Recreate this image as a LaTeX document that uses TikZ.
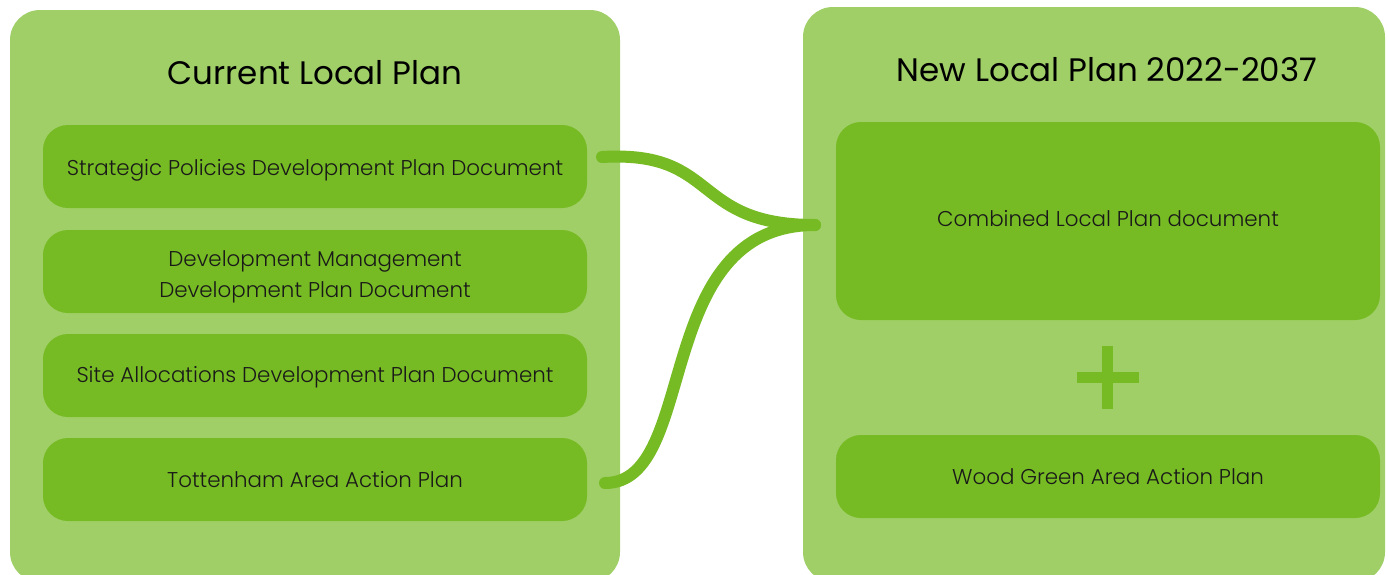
\documentclass[tikz,border=0pt]{standalone}
\usepackage{fontspec}
\setmainfont{Poppins}
\newfontfamily\lightfont{Poppins Light}
\definecolor{outergreen}{RGB}{160,207,103}
\definecolor{innergreen}{RGB}{118,187,35}
\newcommand{\dn}[2]{\raisebox{#1}[\height][\depth]{#2}}
\begin{document}
\begin{tikzpicture}[x=1pt,y=-1pt,
  outerbox/.style={fill=outergreen, rounded corners=30pt},
  innerbox/.style={draw=none, fill=innergreen, rounded corners=25pt, minimum width=544pt, minimum height=83pt, inner sep=0pt, align=center, font=\lightfont\fontsize{21.4}{31}\selectfont, text=black!90},
  titletext/.style={font=\fontsize{32.5}{38}\selectfont, text=black, inner sep=0pt},
  conn/.style={draw=innergreen, line width=12pt, line cap=round}]
\useasboundingbox (0,0) rectangle (1388,574);
\clip (0,0) rectangle (1388,574);
% outer panels
\fill[outerbox] (10,10) rectangle (620,582);
\fill[outerbox] (803,7) rectangle (1385,582);
% titles
\node[titletext] (t1) at (315,73) {Current Local Plan};
\node[titletext] (t2) at (1107,70) {New Local Plan 2022-2037};
% left inner boxes
\node[innerbox] (spd) at (315,166.5) {\dn{-3.5pt}{Strategic Policies Development Plan Document}};
\node[innerbox] (dm) at (315,271.5) {\dn{-5pt}{Development Management}\\\dn{-5pt}{Development Plan Document}};
\node[innerbox] (sa) at (315,375.5) {\dn{-1.5pt}{Site Allocations Development Plan Document}};
\node[innerbox] (taap) at (315,479.5) {\dn{-0.5pt}{Tottenham Area Action Plan}};
% right inner boxes
\node[innerbox, minimum height=198pt] (clp) at (1108,221) {\dn{2.5pt}{Combined Local Plan document}};
\node[innerbox] (wg) at (1108,476.5) {\dn{-0.5pt}{Wood Green Area Action Plan}};
% plus sign
\fill[innergreen] (1077,372) rectangle (1139,383);
\fill[innergreen] (1102,346) rectangle (1113,409);
% connectors
\coordinate (s1) at (602,157);
\coordinate (s2) at (605,483);
\coordinate (e) at (815,225);
\draw[conn] (s1) .. controls (720,150) and (690,225) .. (e);
\draw[conn] (s2) .. controls (700,483) and (650,225) .. (e);
\end{tikzpicture}
\end{document}
